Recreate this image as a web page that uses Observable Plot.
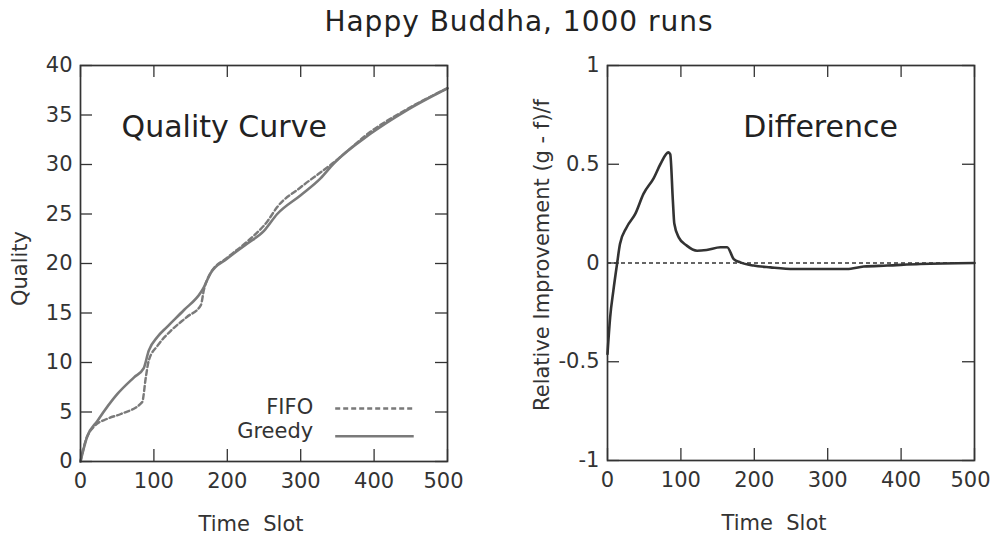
<!DOCTYPE html>
<html>
<head>
<meta charset="utf-8">
<script src="https://cdn.jsdelivr.net/npm/d3@7"></script>
<script src="https://cdn.jsdelivr.net/npm/@observablehq/plot@0.6"></script>
<style>
  body { margin: 0; background: #fff; }
  #root { position: relative; width: 992px; height: 541px; overflow: hidden; font-family: "DejaVu Sans", sans-serif; }
  #title { position: absolute; left: 0; width: 1038px; top: 8px; line-height: 28px; text-align: center; font-size: 28px; letter-spacing: 1px; color: #222; }
  .panel { position: absolute; top: 0; }
</style>
</head>
<body>
<div id="root">
  <div id="title"></div>
</div>
<script>
// ---- data ----
const title = "Happy Buddha, 1000 runs";
const xTicks = [0, 100, 200, 300, 400, 500];
const qualityTicks = [0, 5, 10, 15, 20, 25, 30, 35, 40];
const diffTicks = [-1, -0.5, 0, 0.5, 1];

const greedyX = [0, 9, 23, 50, 73, 86, 93, 105, 118, 141, 164, 168, 177, 200, 227, 250, 268, 300, 327, 345, 395, 445, 500];
const greedyY = [0, 2.5, 4.1, 6.8, 8.5, 9.4, 11.2, 12.6, 13.6, 15.3, 17.1, 17.6, 19, 20.5, 22, 23.3, 25, 26.9, 28.6, 30.1, 33.1, 35.5, 37.7];
const fifoX = [0, 7, 18, 36, 55, 84, 89, 93, 105, 123, 145, 164, 168, 177, 200, 227, 255, 268, 300, 345, 395, 445, 500];
const fifoY = [0, 2.1, 3.5, 4.3, 4.8, 6.0, 8.5, 10.2, 11.7, 13.2, 14.6, 15.8, 17.3, 19, 20.6, 22.2, 24.3, 25.7, 27.7, 30.2, 33.3, 35.6, 37.7];

const diffX = [0, 3.6, 8, 13, 17, 26, 38, 49, 63, 72, 83, 85.5, 89, 91, 97, 108, 122, 135, 154, 163, 172, 181, 199, 222, 254, 290, 326, 349, 381, 426, 500];
const diffY = [-0.46, -0.275, -0.14, -0.005, 0.096, 0.18, 0.25, 0.35, 0.43, 0.5, 0.56, 0.55, 0.32, 0.2, 0.13, 0.088, 0.062, 0.066, 0.08, 0.08, 0.02, 0.003, -0.013, -0.022, -0.03, -0.03, -0.03, -0.018, -0.013, -0.005, 0];

const seriesNames = ["FIFO", "Greedy"];

// ---- build ----
const zip = (xs, ys) => xs.map((x, i) => ({x, y: ys[i]}));
const greedy = zip(greedyX, greedyY);
const fifo = zip(fifoX, fifoY);
const diff = zip(diffX, diffY);

const W = 496, H = 541, TL = 12;
const axisColor = "#333";
const FS = 21;

function frameTicks(fw, fh, xt, yt) {
  const last = xt[xt.length - 1];
  return [
    Plot.tickX(xt, {x: d => d, insetTop: fh - TL, stroke: axisColor, strokeWidth: 1.3}),
    Plot.tickX(xt, {x: d => d, insetBottom: fh - TL, stroke: axisColor, strokeWidth: 1.3}),
    Plot.tickY(yt, {y: d => d, insetRight: fw - TL, stroke: axisColor, strokeWidth: 1.3}),
    Plot.tickY(yt, {y: d => d, insetLeft: fw - TL, stroke: axisColor, strokeWidth: 1.3}),
    Plot.axisX(xt.filter(d => d !== last), {tickSize: 0, tickPadding: 12, tickFormat: d => String(d), label: null, fill: "#333", fontSize: FS}),
    Plot.axisX([last], {tickSize: 0, tickPadding: 12, dx: -4, tickFormat: d => String(d), label: null, fill: "#333", fontSize: FS}),
    Plot.axisY(yt, {tickSize: 0, tickPadding: 8, tickFormat: d => String(d), label: null, fill: "#333", fontSize: FS}),
    Plot.frame({stroke: axisColor, strokeWidth: 1.7})
  ];
}

// Left panel
const mL = {left: 80, right: W - 447, top: 65, bottom: H - 461};
const fwL = W - mL.left - mL.right, fhL = H - mL.top - mL.bottom;
const left = Plot.plot({
  width: W, height: H,
  marginLeft: mL.left, marginRight: mL.right, marginTop: mL.top, marginBottom: mL.bottom,
  style: {fontFamily: "DejaVu Sans", fontSize: FS + "px", color: "#333", background: "transparent"},
  x: {domain: [0, 500]},
  y: {domain: [0, 40]},
  marks: [
    Plot.line(fifo, {x: "x", y: "y", curve: "monotone-x", stroke: "#7a7a7a", strokeWidth: 2.4, strokeDasharray: "5,3"}),
    Plot.line(greedy, {x: "x", y: "y", curve: "monotone-x", stroke: "#7a7a7a", strokeWidth: 2.6}),
    // legend
    Plot.text([seriesNames[0]], {x: 317, y: 5.5, text: d => d, textAnchor: "end", fontSize: FS, fill: "#333"}),
    Plot.text([seriesNames[1]], {x: 317, y: 3.1, text: d => d, textAnchor: "end", fontSize: FS, fill: "#333"}),
    Plot.link([0], {x1: 347, x2: 454, y1: 5.35, y2: 5.35, stroke: "#7a7a7a", strokeWidth: 2.4, strokeDasharray: "5,3"}),
    Plot.link([0], {x1: 347, x2: 454, y1: 2.55, y2: 2.55, stroke: "#7a7a7a", strokeWidth: 2.6}),
    Plot.text(["Quality Curve"], {x: 56, y: 33.7, text: d => d, textAnchor: "start", fontSize: 30, fill: "#222"}),
    Plot.text(["Time\u00a0\u00a0Slot"], {frameAnchor: "bottom", dy: 63, dx: -13, textAnchor: "middle", lineAnchor: "middle", text: d => d, fontSize: FS, fill: "#333"}),
    Plot.text(["Quality"], {frameAnchor: "left", dx: -60, dy: 5, rotate: -90, textAnchor: "middle", lineAnchor: "middle", text: d => d, fontSize: FS, fill: "#333"}),
    ...frameTicks(fwL, fhL, xTicks, qualityTicks)
  ]
});

// Right panel
const mR = {left: 607 - W, right: W - (974 - W), top: 65, bottom: H - 460};
const fwR = W - mR.left - mR.right, fhR = H - mR.top - mR.bottom;
const right = Plot.plot({
  width: W, height: H,
  marginLeft: mR.left, marginRight: mR.right, marginTop: mR.top, marginBottom: mR.bottom,
  style: {fontFamily: "DejaVu Sans", fontSize: FS + "px", color: "#333", background: "transparent"},
  x: {domain: [0, 500]},
  y: {domain: [-1, 1]},
  marks: [
    Plot.ruleY([0], {x1: 0, x2: 500, stroke: "#333", strokeWidth: 1.3, strokeDasharray: "4,3"}),
    Plot.line(diff, {x: "x", y: "y", curve: "monotone-x", stroke: "#333", strokeWidth: 2.6}),
    Plot.text(["Difference"], {x: 185, y: 0.686, text: d => d, textAnchor: "start", fontSize: 30, fill: "#222"}),
    Plot.text(["Time\u00a0\u00a0Slot"], {frameAnchor: "bottom", dy: 63, dx: -17, textAnchor: "middle", lineAnchor: "middle", text: d => d, fontSize: FS, fill: "#333"}),
    Plot.text(["Relative Improvement (g - f)/f"], {frameAnchor: "left", dx: -65, dy: -8, rotate: -90, textAnchor: "middle", lineAnchor: "middle", text: d => d, fontSize: FS, fill: "#333"}),
    ...frameTicks(fwR, fhR, xTicks, diffTicks)
  ]
});

left.classList.add("panel"); left.style.left = "0px";
right.classList.add("panel"); right.style.left = W + "px";
const root = document.getElementById("root");
root.appendChild(left);
root.appendChild(right);
document.getElementById("title").textContent = title;
</script>
</body>
</html>
